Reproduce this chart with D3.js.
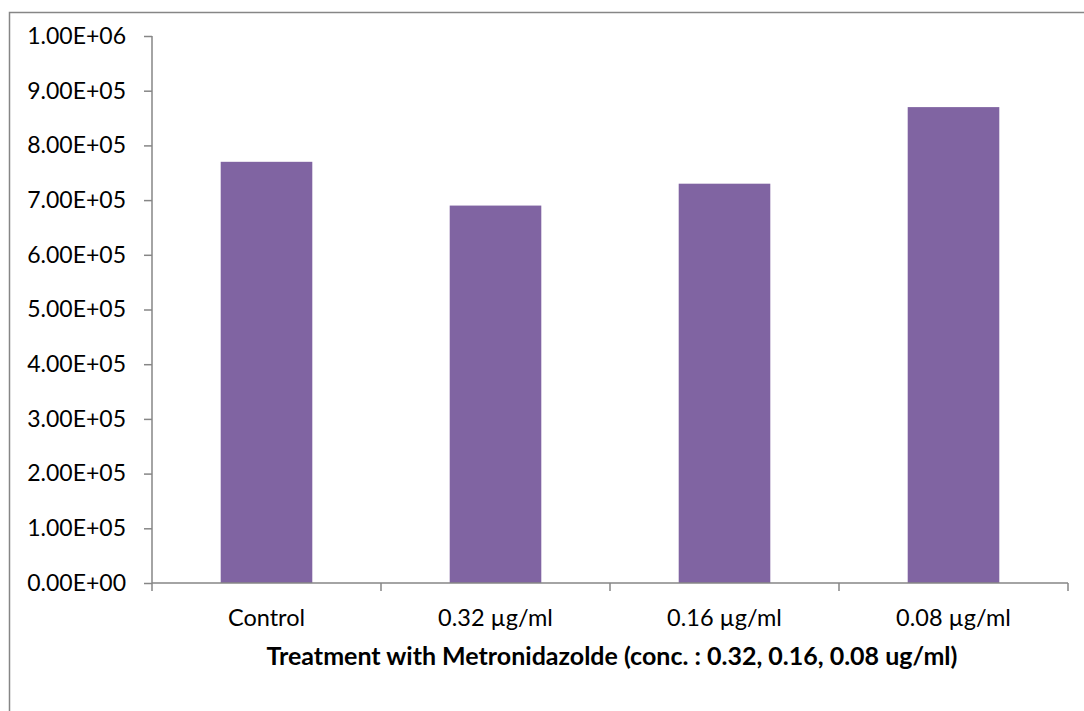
<!DOCTYPE html>
<html><head><meta charset="utf-8">
<script src="https://cdn.jsdelivr.net/npm/d3@7"></script>
<style>html,body{margin:0;padding:0;background:#fff;}</style>
</head><body>
<script>
const categories = ["Control", "0.32 µg/ml", "0.16 µg/ml", "0.08 µg/ml"];
const values = [7.7e5, 6.9e5, 7.3e5, 8.7e5];
const yTicks = [0, 1e5, 2e5, 3e5, 4e5, 5e5, 6e5, 7e5, 8e5, 9e5, 1e6];
const xTitle = "Treatment with Metronidazolde (conc. : 0.32, 0.16, 0.08 ug/ml)";

const W = 1084, H = 711;
const font = "Lato, 'Open Sans', sans-serif";
const svg = d3.select("body").append("svg").attr("width", W).attr("height", H);
svg.append("rect").attr("x", 9.5).attr("y", 12.5).attr("width", 1090).attr("height", 720)
  .attr("fill", "#fff").attr("stroke", "#868686").attr("stroke-width", 1.5);

const m = {left: 152, right: 1068, top: 36, bottom: 583};
const xOuter = d3.scaleBand().domain(categories).range([m.left, m.right]);
const y = d3.scaleLinear().domain([0, 1e6]).range([m.bottom, m.top]);

svg.selectAll(".bar").data(values).join("rect")
  .attr("x", (d, i) => xOuter(categories[i]) + xOuter.bandwidth() / 2 - xOuter.bandwidth() / 2.5 / 2)
  .attr("width", xOuter.bandwidth() / 2.5)
  .attr("y", d => y(d)).attr("height", d => y(0) - y(d))
  .attr("fill", "#8064A2");

// Y axis
const yAxis = svg.append("g").attr("transform", `translate(${m.left},0)`)
  .call(d3.axisLeft(y).tickValues(yTicks).tickSize(8).tickPadding(18)
    .tickFormat(d => d.toExponential(2).toUpperCase().replace(/E([+-])(\d)$/, "E$10$2")));
yAxis.selectAll("path,line").attr("stroke", "#868686").attr("stroke-width", 1.5);
yAxis.select(".domain").attr("d", `M0,${m.top}V${m.bottom}`).attr("stroke-width", 1.5);
yAxis.selectAll("text").attr("font-family", font).attr("font-size", 23).attr("fill", "#000");

// X axis
const xAxisG = svg.append("g").attr("transform", `translate(0,${m.bottom})`);
xAxisG.append("line").attr("x1", m.left).attr("x2", m.right).attr("stroke", "#868686").attr("stroke-width", 1.5);
const edges = categories.map(c => xOuter(c)).concat([m.right]);
xAxisG.selectAll(".tk").data(edges).join("line")
  .attr("x1", d => d).attr("x2", d => d).attr("y1", 0).attr("y2", 8)
  .attr("stroke", "#868686").attr("stroke-width", 1.5);
xAxisG.selectAll(".lb").data(categories).join("text")
  .attr("x", d => xOuter(d) + xOuter.bandwidth() / 2).attr("y", 43)
  .attr("text-anchor", "middle").attr("font-family", font).attr("font-size", 23.5).attr("fill", "#000")
  .text(d => d);

svg.append("text").attr("x", (m.left + m.right) / 2 + 2).attr("y", 665)
  .attr("text-anchor", "middle").attr("font-family", font).attr("font-size", 25)
  .attr("font-weight", "bold").attr("fill", "#000").text(xTitle);
</script>
</body></html>
